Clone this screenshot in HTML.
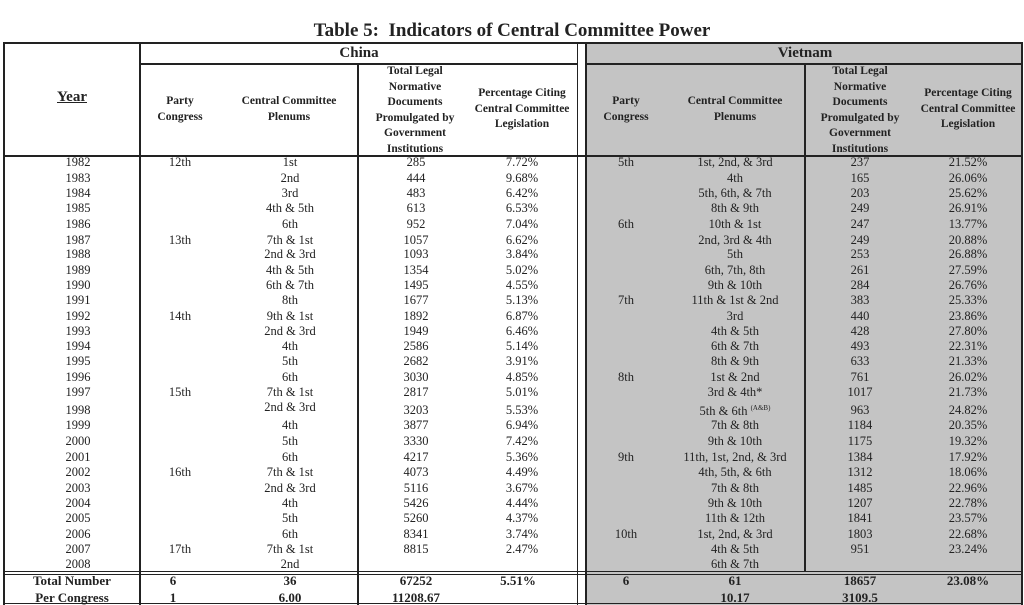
<!DOCTYPE html>
<html><head><meta charset="utf-8"><style>
body{margin:0;width:1024px;height:605px;background:#fff;overflow:hidden;position:relative;font-family:"Liberation Serif",serif;color:#222}
.a{position:absolute}
.l{position:absolute;background:#222}
.t{position:absolute;transform:translateX(-50%);white-space:nowrap;font-size:12.5px;line-height:15px}
.h{position:absolute;transform:translateX(-50%);text-align:center;font-weight:bold;font-size:11.5px;line-height:15.5px;white-space:nowrap}
.b{font-weight:bold;font-size:13px}
.y{left:78px}.p{left:180px}.c{left:290px}.n{left:416px}.q{left:522px}
.vp{left:626px}.vc{left:735px}.vn{left:860px}.vq{left:968px}
</style></head><body>
<div class="a" style="left:586px;top:42px;width:437px;height:563px;background:#c4c4c4"></div>
<div class="t" style="left:512px;top:20px;font-size:19px;line-height:22px;font-weight:bold">Table 5:&nbsp; Indicators of Central Committee Power</div>
<div class="l" style="left:3px;top:42px;width:1020px;height:2px"></div>
<div class="l" style="left:140px;top:63px;width:438px;height:2px"></div>
<div class="l" style="left:586px;top:63px;width:437px;height:2px"></div>
<div class="l" style="left:3px;top:155px;width:1020px;height:2px"></div>
<div class="l" style="left:3px;top:571px;width:1020px;height:1px"></div>
<div class="l" style="left:3px;top:574px;width:1020px;height:1px"></div>
<div class="l" style="left:3px;top:603px;width:1020px;height:1px"></div>
<div class="l" style="left:3px;top:42px;width:2px;height:563px"></div>
<div class="l" style="left:139px;top:42px;width:2px;height:563px"></div>
<div class="l" style="left:357px;top:63px;width:2px;height:542px"></div>
<div class="l" style="left:577px;top:42px;width:1px;height:563px"></div>
<div class="l" style="left:585px;top:42px;width:2px;height:563px"></div>
<div class="l" style="left:804px;top:63px;width:2px;height:509px"></div>
<div class="l" style="left:1021px;top:42px;width:2px;height:563px"></div>
<div class="t" style="left:359px;top:44px;font-weight:bold;font-size:15px;line-height:18px">China</div>
<div class="t" style="left:805px;top:44px;font-weight:bold;font-size:15px;line-height:18px">Vietnam</div>
<div class="t" style="left:72px;top:90px;font-weight:bold;font-size:15px;text-decoration:underline">Year</div>
<div class="h" style="left:180px;top:94px">Party<br>Congress</div>
<div class="h" style="left:289px;top:94px">Central Committee<br>Plenums</div>
<div class="h" style="left:415px;top:64px">Total Legal<br>Normative<br>Documents<br>Promulgated by<br>Government<br>Institutions</div>
<div class="h" style="left:522px;top:86px">Percentage Citing<br>Central Committee<br>Legislation</div>
<div class="h" style="left:626px;top:94px">Party<br>Congress</div>
<div class="h" style="left:735px;top:94px">Central Committee<br>Plenums</div>
<div class="h" style="left:860px;top:64px">Total Legal<br>Normative<br>Documents<br>Promulgated by<br>Government<br>Institutions</div>
<div class="h" style="left:968px;top:86px">Percentage Citing<br>Central Committee<br>Legislation</div>
<div style="position:absolute;left:0;top:155px">
<div class="t y" style="top:0px">1982</div><div class="t p" style="top:0px">12th</div><div class="t c" style="top:0px">1st</div><div class="t n" style="top:0px">285</div><div class="t q" style="top:0px">7.72%</div><div class="t vp" style="top:0px">5th</div><div class="t vc" style="top:0px">1st, 2nd, &amp; 3rd</div><div class="t vn" style="top:0px">237</div><div class="t vq" style="top:0px">21.52%</div>
<div class="t y" style="top:16px">1983</div><div class="t c" style="top:16px">2nd</div><div class="t n" style="top:16px">444</div><div class="t q" style="top:16px">9.68%</div><div class="t vc" style="top:16px">4th</div><div class="t vn" style="top:16px">165</div><div class="t vq" style="top:16px">26.06%</div>
<div class="t y" style="top:31px">1984</div><div class="t c" style="top:31px">3rd</div><div class="t n" style="top:31px">483</div><div class="t q" style="top:31px">6.42%</div><div class="t vc" style="top:31px">5th, 6th, &amp; 7th</div><div class="t vn" style="top:31px">203</div><div class="t vq" style="top:31px">25.62%</div>
<div class="t y" style="top:46px">1985</div><div class="t c" style="top:46px">4th &amp; 5th</div><div class="t n" style="top:46px">613</div><div class="t q" style="top:46px">6.53%</div><div class="t vc" style="top:46px">8th &amp; 9th</div><div class="t vn" style="top:46px">249</div><div class="t vq" style="top:46px">26.91%</div>
<div class="t y" style="top:62px">1986</div><div class="t c" style="top:62px">6th</div><div class="t n" style="top:62px">952</div><div class="t q" style="top:62px">7.04%</div><div class="t vp" style="top:62px">6th</div><div class="t vc" style="top:62px">10th &amp; 1st</div><div class="t vn" style="top:62px">247</div><div class="t vq" style="top:62px">13.77%</div>
<div class="t y" style="top:78px">1987</div><div class="t p" style="top:78px">13th</div><div class="t c" style="top:78px">7th &amp; 1st</div><div class="t n" style="top:78px">1057</div><div class="t q" style="top:78px">6.62%</div><div class="t vc" style="top:78px">2nd, 3rd &amp; 4th</div><div class="t vn" style="top:78px">249</div><div class="t vq" style="top:78px">20.88%</div>
<div class="t y" style="top:92px">1988</div><div class="t c" style="top:92px">2nd &amp; 3rd</div><div class="t n" style="top:92px">1093</div><div class="t q" style="top:92px">3.84%</div><div class="t vc" style="top:92px">5th</div><div class="t vn" style="top:92px">253</div><div class="t vq" style="top:92px">26.88%</div>
<div class="t y" style="top:108px">1989</div><div class="t c" style="top:108px">4th &amp; 5th</div><div class="t n" style="top:108px">1354</div><div class="t q" style="top:108px">5.02%</div><div class="t vc" style="top:108px">6th, 7th, 8th</div><div class="t vn" style="top:108px">261</div><div class="t vq" style="top:108px">27.59%</div>
<div class="t y" style="top:123px">1990</div><div class="t c" style="top:123px">6th &amp; 7th</div><div class="t n" style="top:123px">1495</div><div class="t q" style="top:123px">4.55%</div><div class="t vc" style="top:123px">9th &amp; 10th</div><div class="t vn" style="top:123px">284</div><div class="t vq" style="top:123px">26.76%</div>
<div class="t y" style="top:138px">1991</div><div class="t c" style="top:138px">8th</div><div class="t n" style="top:138px">1677</div><div class="t q" style="top:138px">5.13%</div><div class="t vp" style="top:138px">7th</div><div class="t vc" style="top:138px">11th &amp; 1st &amp; 2nd</div><div class="t vn" style="top:138px">383</div><div class="t vq" style="top:138px">25.33%</div>
<div class="t y" style="top:154px">1992</div><div class="t p" style="top:154px">14th</div><div class="t c" style="top:154px">9th &amp; 1st</div><div class="t n" style="top:154px">1892</div><div class="t q" style="top:154px">6.87%</div><div class="t vc" style="top:154px">3rd</div><div class="t vn" style="top:154px">440</div><div class="t vq" style="top:154px">23.86%</div>
<div class="t y" style="top:169px">1993</div><div class="t c" style="top:169px">2nd &amp; 3rd</div><div class="t n" style="top:169px">1949</div><div class="t q" style="top:169px">6.46%</div><div class="t vc" style="top:169px">4th &amp; 5th</div><div class="t vn" style="top:169px">428</div><div class="t vq" style="top:169px">27.80%</div>
<div class="t y" style="top:184px">1994</div><div class="t c" style="top:184px">4th</div><div class="t n" style="top:184px">2586</div><div class="t q" style="top:184px">5.14%</div><div class="t vc" style="top:184px">6th &amp; 7th</div><div class="t vn" style="top:184px">493</div><div class="t vq" style="top:184px">22.31%</div>
<div class="t y" style="top:199px">1995</div><div class="t c" style="top:199px">5th</div><div class="t n" style="top:199px">2682</div><div class="t q" style="top:199px">3.91%</div><div class="t vc" style="top:199px">8th &amp; 9th</div><div class="t vn" style="top:199px">633</div><div class="t vq" style="top:199px">21.33%</div>
<div class="t y" style="top:215px">1996</div><div class="t c" style="top:215px">6th</div><div class="t n" style="top:215px">3030</div><div class="t q" style="top:215px">4.85%</div><div class="t vp" style="top:215px">8th</div><div class="t vc" style="top:215px">1st &amp; 2nd</div><div class="t vn" style="top:215px">761</div><div class="t vq" style="top:215px">26.02%</div>
<div class="t y" style="top:230px">1997</div><div class="t p" style="top:230px">15th</div><div class="t c" style="top:230px">7th &amp; 1st</div><div class="t n" style="top:230px">2817</div><div class="t q" style="top:230px">5.01%</div><div class="t vc" style="top:230px">3rd &amp; 4th*</div><div class="t vn" style="top:230px">1017</div><div class="t vq" style="top:230px">21.73%</div>
<div class="t y" style="top:248px">1998</div><div class="t c" style="top:245px">2nd &amp; 3rd</div><div class="t n" style="top:248px">3203</div><div class="t q" style="top:248px">5.53%</div><div class="t vc" style="top:246px">5th &amp; 6th <sup style="font-size:7px">(A&amp;B)</sup></div><div class="t vn" style="top:248px">963</div><div class="t vq" style="top:248px">24.82%</div>
<div class="t y" style="top:263px">1999</div><div class="t c" style="top:263px">4th</div><div class="t n" style="top:263px">3877</div><div class="t q" style="top:263px">6.94%</div><div class="t vc" style="top:263px">7th &amp; 8th</div><div class="t vn" style="top:263px">1184</div><div class="t vq" style="top:263px">20.35%</div>
<div class="t y" style="top:279px">2000</div><div class="t c" style="top:279px">5th</div><div class="t n" style="top:279px">3330</div><div class="t q" style="top:279px">7.42%</div><div class="t vc" style="top:279px">9th &amp; 10th</div><div class="t vn" style="top:279px">1175</div><div class="t vq" style="top:279px">19.32%</div>
<div class="t y" style="top:295px">2001</div><div class="t c" style="top:295px">6th</div><div class="t n" style="top:295px">4217</div><div class="t q" style="top:295px">5.36%</div><div class="t vp" style="top:295px">9th</div><div class="t vc" style="top:295px">11th, 1st, 2nd, &amp; 3rd</div><div class="t vn" style="top:295px">1384</div><div class="t vq" style="top:295px">17.92%</div>
<div class="t y" style="top:310px">2002</div><div class="t p" style="top:310px">16th</div><div class="t c" style="top:310px">7th &amp; 1st</div><div class="t n" style="top:310px">4073</div><div class="t q" style="top:310px">4.49%</div><div class="t vc" style="top:310px">4th, 5th, &amp; 6th</div><div class="t vn" style="top:310px">1312</div><div class="t vq" style="top:310px">18.06%</div>
<div class="t y" style="top:326px">2003</div><div class="t c" style="top:326px">2nd &amp; 3rd</div><div class="t n" style="top:326px">5116</div><div class="t q" style="top:326px">3.67%</div><div class="t vc" style="top:326px">7th &amp; 8th</div><div class="t vn" style="top:326px">1485</div><div class="t vq" style="top:326px">22.96%</div>
<div class="t y" style="top:341px">2004</div><div class="t c" style="top:341px">4th</div><div class="t n" style="top:341px">5426</div><div class="t q" style="top:341px">4.44%</div><div class="t vc" style="top:341px">9th &amp; 10th</div><div class="t vn" style="top:341px">1207</div><div class="t vq" style="top:341px">22.78%</div>
<div class="t y" style="top:356px">2005</div><div class="t c" style="top:356px">5th</div><div class="t n" style="top:356px">5260</div><div class="t q" style="top:356px">4.37%</div><div class="t vc" style="top:356px">11th &amp; 12th</div><div class="t vn" style="top:356px">1841</div><div class="t vq" style="top:356px">23.57%</div>
<div class="t y" style="top:372px">2006</div><div class="t c" style="top:372px">6th</div><div class="t n" style="top:372px">8341</div><div class="t q" style="top:372px">3.74%</div><div class="t vp" style="top:372px">10th</div><div class="t vc" style="top:372px">1st, 2nd, &amp; 3rd</div><div class="t vn" style="top:372px">1803</div><div class="t vq" style="top:372px">22.68%</div>
<div class="t y" style="top:387px">2007</div><div class="t p" style="top:387px">17th</div><div class="t c" style="top:387px">7th &amp; 1st</div><div class="t n" style="top:387px">8815</div><div class="t q" style="top:387px">2.47%</div><div class="t vc" style="top:387px">4th &amp; 5th</div><div class="t vn" style="top:387px">951</div><div class="t vq" style="top:387px">23.24%</div>
<div class="t y" style="top:402px">2008</div><div class="t c" style="top:402px">2nd</div><div class="t vc" style="top:402px">6th &amp; 7th</div>
</div>
<div class="t b" style="left:72px;top:573px">Total Number</div><div class="t b" style="left:173px;top:573px">6</div><div class="t b c" style="top:573px">36</div><div class="t b n" style="top:573px">67252</div><div class="t b" style="left:518px;top:573px">5.51%</div><div class="t b vp" style="top:573px">6</div><div class="t b vc" style="top:573px">61</div><div class="t b vn" style="top:573px">18657</div><div class="t b vq" style="top:573px">23.08%</div>
<div class="t b" style="left:72px;top:590px">Per Congress</div><div class="t b" style="left:173px;top:590px">1</div><div class="t b c" style="top:590px">6.00</div><div class="t b n" style="top:590px">11208.67</div><div class="t b vc" style="top:590px">10.17</div><div class="t b vn" style="top:590px">3109.5</div>
</body></html>
